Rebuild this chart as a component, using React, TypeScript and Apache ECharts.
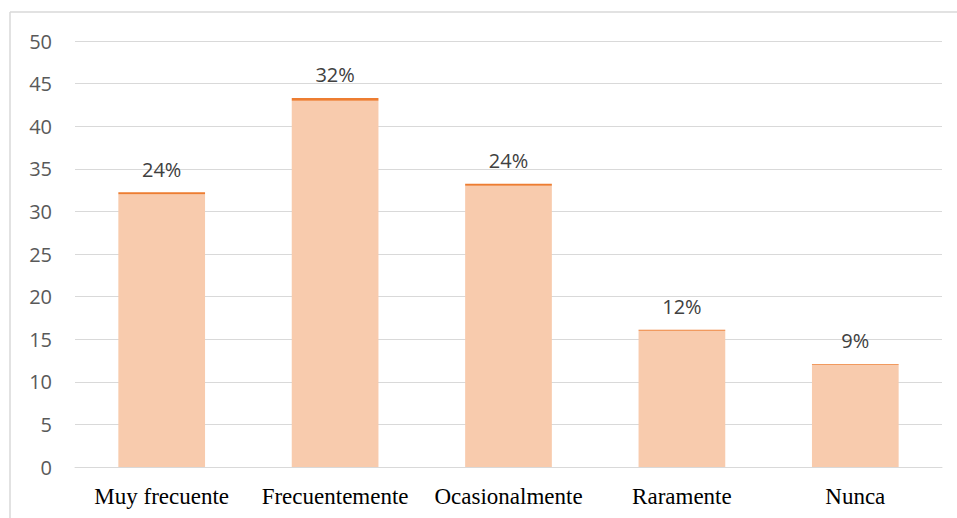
import React, { useEffect, useRef } from "react";
import * as echarts from "echarts";

const categories = ["Muy frecuente", "Frecuentemente", "Ocasionalmente", "Raramente", "Nunca"];
const counts = [32, 43, 33, 16, 12];
const shares = [0.24, 0.32, 0.24, 0.12, 0.09];
const shareLabels = ["24%", "32%", "24%", "12%", "9%"];
const yMin = 0;
const yMax = 50;
const yStep = 5;

export default function App() {
  const ref = useRef<HTMLDivElement>(null);
  useEffect(() => {
    if (!ref.current) return;
    const chart = echarts.init(ref.current, undefined, { renderer: "svg" });
    chart.setOption({
      animation: false,
      backgroundColor: "#ffffff",
      grid: { left: 75, right: 15, top: 41, bottom: 51, containLabel: false },
      xAxis: {
        type: "category",
        data: categories,
        axisLine: { show: true, lineStyle: { color: "#d9d9d9", width: 1 } },
        axisTick: { show: false },
        axisLabel: {
          color: "#000000",
          fontFamily: "Liberation Serif",
          fontSize: 23,
          margin: 18,
          interval: 0,
        },
      },
      yAxis: {
        type: "value",
        min: yMin,
        max: yMax,
        interval: yStep,
        axisLine: { show: false },
        axisTick: { show: false },
        splitLine: { lineStyle: { color: "#d9d9d9", width: 1 } },
        axisLabel: {
          color: "#595959",
          fontFamily: "Open Sans",
          fontSize: 20,
          margin: 23,
        },
      },
      series: [
        {
          type: "bar",
          stack: "total",
          data: counts,
          barWidth: "50%",
          itemStyle: { color: "#F8CBAD" },
        },
        {
          type: "bar",
          stack: "total",
          data: shares,
          barWidth: "50%",
          itemStyle: { color: "#ED7D31" },
          label: {
            show: true,
            position: "top",
            distance: 13,
            color: "#404040",
            fontFamily: "Open Sans",
            fontSize: 20,
            formatter: (p: any) => shareLabels[p.dataIndex],
          },
        },
      ],
      graphic: [
        {
          type: "line",
          shape: { x1: 10, y1: 12, x2: 957, y2: 12 },
          style: { stroke: "#d9d9d9", lineWidth: 1.5 },
          silent: true,
        },
        {
          type: "line",
          shape: { x1: 10, y1: 12, x2: 10, y2: 518 },
          style: { stroke: "#d9d9d9", lineWidth: 1.5 },
          silent: true,
        },
      ],
    });
    return () => chart.dispose();
  }, []);
  return (
    <div
      ref={ref}
      style={{ position: "absolute", left: 0, top: 0, width: 957, height: 518 }}
    />
  );
}
